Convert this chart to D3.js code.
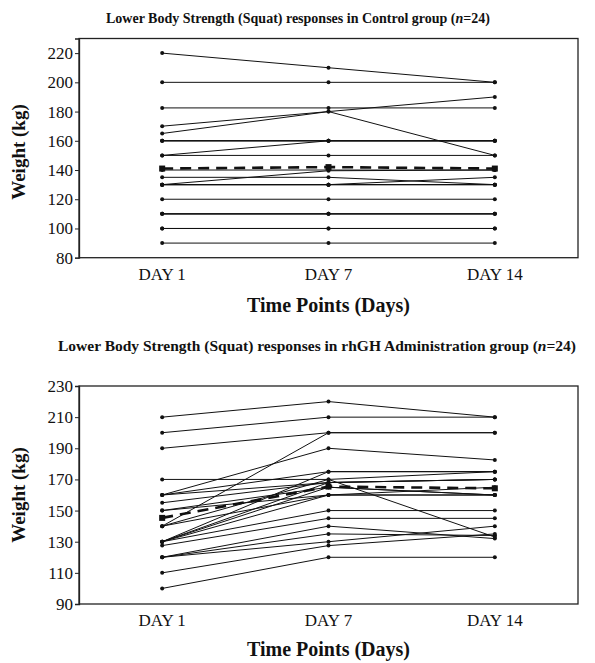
<!DOCTYPE html>
<html>
<head>
<meta charset="utf-8">
<script src="https://cdn.jsdelivr.net/npm/d3@7"></script>
<style>
  body { margin: 0; background: #fff; }
  svg text { font-family: "Liberation Serif", "Times New Roman", serif; fill: #111; }
</style>
</head>
<body>
<div id="chart_container"></div>
<script>
// time points (x categories)
var DAYS = ["DAY 1", "DAY 7", "DAY 14"];

// control group, one row per subject: [day1, day7, day14]
var CONTROL_SUBJECTS = [
    [220, 210, 200],
    [200, 200, 200],
    [182.5, 182.5, 182.5],
    [170, 180, 190],
    [165, 180, 150],
    [160, 160, 160],
    [160, 160, 160],
    [160, 160, 160],
    [150, 160, 160],
    [150, 150, 150],
    [140, 140, 140],
    [130, 139.5, 140],
    [135, 135, 130],
    [130, 130, 135],
    [130, 130, 130],
    [130, 130, 130],
    [130, 130, 130],
    [120, 120, 120],
    [110, 110, 110],
    [110, 110, 110],
    [110, 110, 110],
    [100, 100, 100],
    [100, 100, 100],
    [90, 90, 90]
];
var CONTROL_MEAN = [141, 142, 141];
var CONTROL_TICKS = [80, 100, 120, 140, 160, 180, 200, 220];

// rhGH group
var RHGH_SUBJECTS = [
    [210, 220, 210],
    [200, 210, 210],
    [190, 200, 200],
    [140, 200, 200],
    [160, 190, 182.5],
    [160, 175, 175],
    [130, 175, 175],
    [170, 170, 175],
    [160, 168, 170],
    [155, 168, 170],
    [150, 165, 160],
    [150, 160, 160],
    [140, 170, 133],
    [140, 160, 160],
    [130, 168, 170],
    [130, 165, 160],
    [130, 150, 150],
    [127.5, 145, 145],
    [120, 140, 132],
    [120, 135, 134],
    [120, 130, 140],
    [110, 127.5, 135],
    [130, 160, 165],
    [100, 120, 120]
];
var RHGH_MEAN = [145.3, 165.4, 164.3];
var RHGH_TICKS = [90, 110, 130, 150, 170, 190, 210, 230];

var SVG_W = 595, SVG_H = 663;

var svg = d3.select("#chart_container")
    .append("svg")
    .attr("width", SVG_W)
    .attr("height", SVG_H);

drawPanel({
    title: "Lower Body Strength (Squat) responses in Control group",
    titleX: 298, titleY: 23, titleSize: 14,
    top: 38.5, bottom: 257.7,
    yDomain: [80, 230],
    ticks: CONTROL_TICKS,
    subjects: CONTROL_SUBJECTS,
    mean: CONTROL_MEAN,
    dayY: 280, axisTitleY: 312, yLabelY: 152
});

drawPanel({
    title: "Lower Body Strength (Squat) responses in rhGH Administration group",
    titleX: 317, titleY: 351, titleSize: 15.5,
    top: 386, bottom: 604,
    yDomain: [90, 230],
    ticks: RHGH_TICKS,
    subjects: RHGH_SUBJECTS,
    mean: RHGH_MEAN,
    dayY: 626, axisTitleY: 656, yLabelY: 495
});

function drawPanel(p){
    let left = 79, right = 578;

    let x = d3.scalePoint()
        .domain(DAYS)
        .range([left, right])
        .padding(0.5);

    let y = d3.scaleLinear()
        .domain(p.yDomain)
        .range([p.bottom, p.top]);

    let g = svg.append("g");

    // title with italic n
    let t = g.append("text")
        .attr("x", p.titleX)
        .attr("y", p.titleY)
        .attr("text-anchor", "middle")
        .style("font-size", p.titleSize + "px")
        .style("font-weight", "bold");
    t.append("tspan").text(p.title + "  (");
    t.append("tspan").style("font-style", "italic").text("n");
    t.append("tspan").text("=24)");

    // frame
    g.append("rect")
        .attr("x", left)
        .attr("y", p.top)
        .attr("width", right - left)
        .attr("height", p.bottom - p.top)
        .attr("fill", "none")
        .attr("stroke", "#222")
        .attr("stroke-width", 1.3);

    // y axis
    let yAxis = g.append("g")
        .attr("transform", "translate(" + left + ",0)")
        .call(d3.axisLeft(y).tickValues(p.ticks).tickSize(4).tickPadding(2));
    yAxis.select(".domain").attr("stroke", "#222").attr("stroke-width", 1.3);
    yAxis.selectAll(".tick line").attr("stroke", "#222");
    yAxis.selectAll(".tick text")
        .style("font-size", "17px")
        .attr("fill", "#111");

    // day labels
    g.selectAll(".daylbl")
        .data(DAYS)
        .enter()
        .append("text")
        .attr("x", d => x(d))
        .attr("y", p.dayY)
        .attr("text-anchor", "middle")
        .style("font-size", "17px")
        .text(d => d);

    g.append("text")
        .attr("x", (left + right) / 2)
        .attr("y", p.axisTitleY)
        .attr("text-anchor", "middle")
        .style("font-size", "20px")
        .style("font-weight", "bold")
        .text("Time Points (Days)");

    g.append("text")
        .attr("transform", "translate(25," + p.yLabelY + ")rotate(-90)")
        .attr("text-anchor", "middle")
        .style("font-size", "19px")
        .style("font-weight", "bold")
        .text("Weight (kg)");

    let line = d3.line()
        .x((d, i) => x(DAYS[i]))
        .y(d => y(d));

    // subject lines
    g.selectAll(".subj")
        .data(p.subjects)
        .enter()
        .append("path")
        .attr("d", d => line(d))
        .attr("fill", "none")
        .attr("stroke", "#111")
        .attr("stroke-width", 1);

    let pts = [];
    p.subjects.forEach(function(s){
        s.forEach(function(v, i){ pts.push({day: DAYS[i], v: v}); });
    });
    g.selectAll(".pt")
        .data(pts)
        .enter()
        .append("circle")
        .attr("cx", d => x(d.day))
        .attr("cy", d => y(d.v))
        .attr("r", 2)
        .attr("fill", "#111");

    // mean (dashed)
    g.append("path")
        .attr("d", line(p.mean))
        .attr("fill", "none")
        .attr("stroke", "#111")
        .attr("stroke-width", 2.6)
        .attr("stroke-dasharray", "11,7");

    g.selectAll(".meanpt")
        .data(p.mean)
        .enter()
        .append("rect")
        .attr("x", (d, i) => x(DAYS[i]) - 3)
        .attr("y", d => y(d) - 3)
        .attr("width", 6)
        .attr("height", 6)
        .attr("fill", "#111");
}
</script>
</body>
</html>
